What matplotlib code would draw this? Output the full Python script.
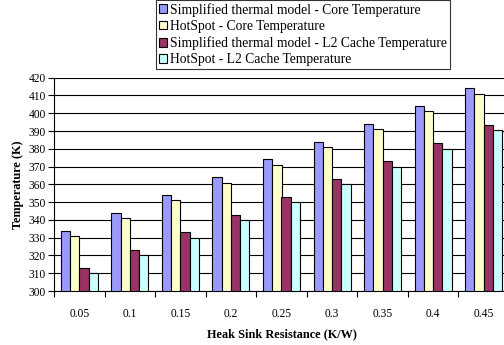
import matplotlib
matplotlib.use("Agg")
import matplotlib.pyplot as plt
import numpy as np
from matplotlib.patches import Patch

plt.rcParams['font.family'] = ['Liberation Serif', 'DejaVu Serif']

categories = ["0.05", "0.1", "0.15", "0.2", "0.25", "0.3", "0.35", "0.4", "0.45"]
series_names = [
    "Simplified thermal model - Core Temperature",
    "HotSpot - Core Temperature",
    "Simplified thermal model - L2 Cache Temperature",
    "HotSpot - L2 Cache Temperature",
]
simplified_core = [334, 344, 354, 364, 374, 384, 394, 404, 414]
hotspot_core = [331, 341, 351, 361, 371, 381, 391, 401, 411]
simplified_l2 = [313, 323, 333, 343, 353, 363, 373, 383, 393.5]
hotspot_l2 = [310, 320, 330, 340, 350, 360, 370, 380, 390.5]
colors = ["#9999FF", "#FFFFCC", "#993366", "#CCFFFF"]

series = [simplified_core, hotspot_core, simplified_l2, hotspot_l2]

fig = plt.figure(figsize=(5.04, 3.45), dpi=100)
ax = fig.add_axes([54/504, 1-291/345, 455/504, (291-77.7)/345])

n = len(series)
group_w = 0.73
bw = group_w / n
x = np.arange(len(categories))
for i, (vals, c) in enumerate(zip(series, colors)):
    offs = -group_w/2 + bw*(i+0.5)
    ax.bar(x + offs, np.array(vals) - 300, bottom=300, width=bw, color=c,
           edgecolor='black', linewidth=0.8, zorder=3)

ax.set_xlim(-0.5, len(categories) - 0.5)
ax.set_ylim(300, 420)
ax.set_yticks(np.arange(300, 421, 10))
ax.yaxis.grid(True, color='black', linewidth=0.8, zorder=0)
ax.set_axisbelow(True)

ax.set_xticks(x)
ax.set_xticklabels(categories)
ax.set_xticks(np.arange(-0.5, len(categories)), minor=True)
ax.tick_params(axis='x', which='major', length=0, pad=12, labelsize=8.3)
ax.tick_params(axis='x', which='minor', length=4, width=0.8, direction='out')
ax.tick_params(axis='y', length=4, width=0.8, direction='out', labelsize=8.3, pad=2)

for s in ['top', 'right']:
    ax.spines[s].set_visible(False)
for s in ['left', 'bottom']:
    ax.spines[s].set_linewidth(0.8)

ax.set_ylabel("Temperature (K)", fontsize=8.8, fontweight='bold', labelpad=3)
ax.set_xlabel("Heak Sink Resistance (K/W)", fontsize=8.8, fontweight='bold', labelpad=6)

handles = [Patch(facecolor=c, edgecolor='black', linewidth=0.8) for c in colors]
leg = fig.legend(handles, series_names, loc='upper left',
                 bbox_to_anchor=(156/504, 1.0), bbox_transform=fig.transFigure,
                 borderaxespad=0, fontsize=9.8, frameon=True, fancybox=False,
                 handlelength=0.6, handleheight=0.6, handletextpad=0.25,
                 labelspacing=0.25, borderpad=0.2)
leg.get_frame().set_edgecolor('black')
leg.get_frame().set_linewidth(0.8)

fig.savefig("out.png", dpi=100)
